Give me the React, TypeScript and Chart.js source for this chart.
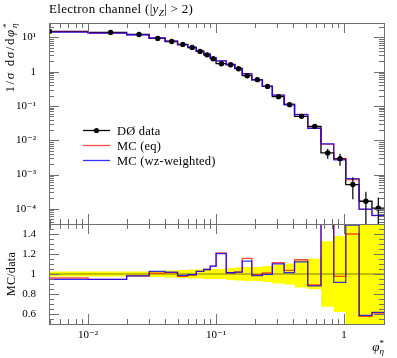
import React, { useEffect, useRef } from 'react';
import { Chart, registerables } from 'chart.js';
Chart.register(...registerables);

const FONT = '"Liberation Serif", "DejaVu Serif", serif';

// ---- data ----
const binEdges = [0, 0.01, 0.02, 0.03, 0.04, 0.05, 0.06, 0.07, 0.08, 0.09, 0.10, 0.12, 0.14, 0.16, 0.19, 0.23, 0.275, 0.34, 0.41, 0.52, 0.66, 0.83, 1.03, 1.31, 1.65, 2.05];
const dataValues = [15.0, 14.0, 12.2, 9.35, 7.6, 6.25, 5.1, 3.9, 3.1, 2.39, 1.71, 1.60, 1.22, 0.764, 0.585, 0.372, 0.187, 0.109, 0.0498, 0.0254, 0.00427, 0.0029, 0.00051, 0.000166, 0.000104];
const dataErrors = [0.38, 0.35, 0.30, 0.28, 0.27, 0.25, 0.23, 0.18, 0.155, 0.12, 0.086, 0.096, 0.079, 0.053, 0.041, 0.030, 0.0178, 0.0114, 0.0067, 0.0039, 0.0014, 0.0011, 0.00032, 0.00015, 0.00011];
const mcEqValues = [14.4, 13.24, 11.96, 9.44, 7.71, 6.10, 5.05, 4.00, 3.24, 2.58, 2.07, 1.62, 1.244, 0.883, 0.581, 0.376, 0.208, 0.113, 0.0569, 0.0226, 0.00769, 0.00283, 0.000714, 0.0000956, 0.0000634];
const mcWzValues = [14.19, 13.24, 11.96, 9.59, 7.75, 6.16, 5.07, 4.00, 3.24, 2.58, 2.06, 1.62, 1.244, 0.863, 0.575, 0.3705, 0.206, 0.1104, 0.0558, 0.0224, 0.00781, 0.00266, 0.00076, 0.0000973, 0.0000641];

const yTickValues = [1e-4, 1e-3, 1e-2, 1e-1, 1, 10];
const yTickLabels = ['10⁻⁴', '10⁻³', '10⁻²', '10⁻¹', '1', '10¹'];
const ratioTickValues = [0.6, 0.8, 1.0, 1.2, 1.4];
const ratioTickLabels = ['0.6', '0.8', '1', '1.2', '1.4'];
const xTickValues = [0.01, 0.1, 1];
const xTickLabels = ['10⁻²', '10⁻¹', '1'];
const legendLabels = ['DØ data', 'MC (eq)', 'MC (wz-weighted)'];

const X_MIN = 0.00495, X_MAX = 2.05;
const Y_MIN = 3.6e-5, Y_MAX = 26.3;
const R_MIN = 0.5, R_MAX = 1.5;

const RED = 'rgba(255,0,0,0.72)';
const BLUE = 'rgba(0,0,255,0.8)';
const FRAME = '#707070';

// ---- helpers ----
const binCenters = binEdges.slice(0, -1).map((e, i) => (e + binEdges[i + 1]) / 2);
function stepPoints(vals: number[]) {
  return binEdges.map((e, i) => ({ x: Math.max(e, X_MIN), y: vals[Math.min(i, vals.length - 1)] }));
}
function ratioOf(vals: number[]) {
  return vals.map((v, i) => v / dataValues[i]);
}

type Piece = { t: string; it?: boolean; dy?: number; sc?: number; na?: boolean };
function fnt(p: Piece, size: number) {
  return `${p.it ? 'italic ' : ''}${size * (p.sc ?? 1)}px ${FONT}`;
}
function drawRich(ctx: any, pieces: Piece[], x: number, y: number, size: number, align: 'left' | 'right' | 'center', spacing = 0) {
  ctx.letterSpacing = `${spacing}px`;
  let w = 0;
  const ws = pieces.map((p) => {
    ctx.font = fnt(p, size);
    const m = ctx.measureText(p.t).width;
    if (!p.na) w += m;
    return m;
  });
  let cx = align === 'left' ? x : align === 'right' ? x - w : x - w / 2;
  ctx.textAlign = 'left';
  ctx.textBaseline = 'alphabetic';
  pieces.forEach((p, i) => {
    ctx.font = fnt(p, size);
    ctx.fillText(p.t, cx, y + (p.dy ?? 0) * size);
    if (!p.na) cx += ws[i];
  });
  ctx.letterSpacing = '0px';
}

function logTicks(min: number, max: number) {
  const out: { v: number; major: boolean }[] = [];
  for (let d = -6; d <= 2; d++) {
    for (let k = 1; k <= 9; k++) {
      const v = k * Math.pow(10, d);
      if (v > min && v < max) out.push({ v, major: k === 1 });
    }
  }
  return out;
}

function drawFrame(chart: any, yTicks: { v: number; major: boolean }[]) {
  const { ctx, chartArea: a, scales } = chart;
  const xs = scales.x, ys = scales.y;
  ctx.save();
  ctx.strokeStyle = FRAME;
  ctx.lineWidth = 1;
  ctx.beginPath();
  for (const t of logTicks(X_MIN, X_MAX)) {
    const px = Math.round(xs.getPixelForValue(t.v)) + 0.5;
    if (px < a.left + 1.5 || px > a.right - 1) continue;
    const len = t.major ? 10 : 5;
    ctx.moveTo(px, a.top); ctx.lineTo(px, a.top + len);
    ctx.moveTo(px, a.bottom); ctx.lineTo(px, a.bottom - len);
  }
  for (const t of yTicks) {
    const py = Math.round(ys.getPixelForValue(t.v)) + 0.5;
    if (py < a.top + 1.5 || py > a.bottom - 1) continue;
    const len = t.major ? 10 : 5;
    ctx.moveTo(a.left, py); ctx.lineTo(a.left + len, py);
    ctx.moveTo(a.right, py); ctx.lineTo(a.right - len, py);
  }
  ctx.stroke();
  ctx.strokeRect(a.left + 0.5, a.top + 0.5, a.right - a.left, a.bottom - a.top);
  ctx.restore();
}

function topConfig(): any {
  const plugin = {
    id: 'topDecor',
    afterDatasetsDraw(chart: any) {
      const { ctx, chartArea: a, scales } = chart;
      ctx.save();
      ctx.beginPath();
      ctx.rect(a.left, a.top, a.right - a.left, a.bottom - a.top);
      ctx.clip();
      ctx.strokeStyle = '#000';
      ctx.lineWidth = 1.2;
      ctx.beginPath();
      binCenters.forEach((c, i) => {
        const px = scales.x.getPixelForValue(c);
        const hi = dataValues[i] + dataErrors[i];
        const lo = dataValues[i] - dataErrors[i];
        const y1 = scales.y.getPixelForValue(hi);
        const y2 = lo > 0 ? scales.y.getPixelForValue(lo) : a.bottom + 10;
        ctx.moveTo(px, y1); ctx.lineTo(px, y2);
      });
      ctx.stroke();
      ctx.restore();
    },
    afterDraw(chart: any) {
      const { ctx } = chart;
      drawFrame(chart, logTicks(Y_MIN, Y_MAX));
      ctx.save();
      ctx.fillStyle = '#000';
      // title
      drawRich(ctx, [
        { t: 'Electron channel (|' }, { t: 'y', it: true }, { t: 'Z', it: true, sc: 0.7, dy: 0.25 }, { t: '| > 2)' },
      ], 49, 13, 13, 'left', 0.3);
      // y axis title (rotated)
      ctx.save();
      ctx.translate(14, 22);
      ctx.rotate(-Math.PI / 2);
      drawRich(ctx, [
        { t: '1/' }, { t: 'σ', it: true }, { t: ' d' }, { t: 'σ', it: true }, { t: '/d' }, { t: 'φ', it: true },
        { t: '*', sc: 0.7, dy: -0.35, na: true }, { t: 'η', it: true, sc: 0.7, dy: 0.25 },
      ], 0, 0, 13, 'right', 1.6);
      ctx.restore();
      // legend
      const colors = ['#000', RED, BLUE];
      legendLabels.forEach((lab, i) => {
        const ly = 130.5 + i * 15;
        ctx.strokeStyle = colors[i];
        ctx.lineWidth = 1.3;
        ctx.beginPath(); ctx.moveTo(83, ly); ctx.lineTo(110, ly); ctx.stroke();
        if (i === 0) {
          ctx.fillStyle = '#000';
          ctx.beginPath(); ctx.arc(96.5, ly, 2.6, 0, Math.PI * 2); ctx.fill();
        }
        ctx.fillStyle = '#000';
        drawRich(ctx, [{ t: lab }], 117, ly + 4, 12.5, 'left', 0.2);
      });
      ctx.restore();
    },
  };
  return {
    type: 'line',
    data: {
      datasets: [
        { label: 'points', data: binCenters.map((c, i) => ({ x: c, y: dataValues[i] })), showLine: false, pointRadius: 2.7, pointBackgroundColor: '#000', pointBorderColor: '#000', pointBorderWidth: 0 },
        { label: legendLabels[2], data: stepPoints(mcWzValues), stepped: 'before', borderColor: BLUE, borderWidth: 1.3, pointRadius: 0, fill: false },
        { label: legendLabels[1], data: stepPoints(mcEqValues), stepped: 'before', borderColor: RED, borderWidth: 1.3, pointRadius: 0, fill: false },
        { label: legendLabels[0], data: stepPoints(dataValues), stepped: 'before', borderColor: '#000', borderWidth: 1.3, pointRadius: 0, fill: false },
      ],
    },
    options: {
      responsive: false,
      animation: false,
      events: [],
      layout: { padding: { top: 23, bottom: 134, left: 0, right: 13 } },
      plugins: { legend: { display: false }, tooltip: { enabled: false } },
      scales: {
        x: { type: 'logarithmic', min: X_MIN, max: X_MAX, display: false },
        y: {
          type: 'logarithmic', min: Y_MIN, max: Y_MAX,
          grid: { display: false }, border: { display: false },
          afterBuildTicks: (s: any) => { s.ticks = yTickValues.map((v) => ({ value: v })); },
          afterFit: (s: any) => { s.width = 49; },
          ticks: { autoSkip: false, padding: 5, font: { size: 11, family: FONT }, color: '#000', callback: (_v: any, i: number) => yTickLabels[i] },
        },
      },
    },
    plugins: [plugin],
  };
}

function bottomConfig(): any {
  const lower = dataErrors.map((e, i) => 1 - e / dataValues[i]);
  const upper = dataErrors.map((e, i) => 1 + e / dataValues[i]);
  const rTicks: { v: number; major: boolean }[] = [];
  for (let k = 11; k <= 29; k++) {
    const v = k * 0.05;
    rTicks.push({ v, major: ratioTickValues.some((t) => Math.abs(t - v) < 1e-6) });
  }
  const plugin = {
    id: 'botDecor',
    afterDraw(chart: any) {
      const { ctx } = chart;
      drawFrame(chart, rTicks);
      ctx.save();
      ctx.fillStyle = '#000';
      ctx.save();
      ctx.translate(15, 274);
      ctx.rotate(-Math.PI / 2);
      drawRich(ctx, [{ t: 'MC/data' }], 0, 0, 12, 'center', 0.3);
      ctx.restore();
      drawRich(ctx, [
        { t: 'φ', it: true }, { t: '*', sc: 0.7, dy: -0.35, na: true }, { t: 'η', it: true, sc: 0.7, dy: 0.25 },
      ], 384, 351, 13, 'right');
      ctx.restore();
    },
  };
  return {
    type: 'line',
    data: {
      datasets: [
        { label: 'wz ratio', data: stepPoints(ratioOf(mcWzValues)), stepped: 'before', borderColor: BLUE, borderWidth: 1.3, pointRadius: 0, fill: false },
        { label: 'eq ratio', data: stepPoints(ratioOf(mcEqValues)), stepped: 'before', borderColor: RED, borderWidth: 1.3, pointRadius: 0, fill: false },
        { label: 'data ratio', data: stepPoints(ratioOf(dataValues)), stepped: 'before', borderColor: 'rgba(0,0,0,0.5)', borderWidth: 1, pointRadius: 0, fill: false },
        { label: 'band upper', data: stepPoints(upper), stepped: 'before', borderWidth: 0, borderColor: 'rgba(0,0,0,0)', pointRadius: 0, fill: '+1', backgroundColor: '#ffff00' },
        { label: 'band lower', data: stepPoints(lower), stepped: 'before', borderWidth: 0, borderColor: 'rgba(0,0,0,0)', pointRadius: 0, fill: false },
      ],
    },
    options: {
      responsive: false,
      animation: false,
      events: [],
      layout: { padding: { top: 224, bottom: 0, left: 0, right: 13 } },
      plugins: { legend: { display: false }, tooltip: { enabled: false } },
      scales: {
        x: {
          type: 'logarithmic', min: X_MIN, max: X_MAX,
          grid: { display: false }, border: { display: false },
          afterBuildTicks: (s: any) => { s.ticks = xTickValues.map((v) => ({ value: v })); },
          afterFit: (s: any) => { s.height = 34; },
          ticks: { autoSkip: false, maxRotation: 0, padding: -3, font: { size: 11, family: FONT }, color: '#000', callback: (_v: any, i: number) => xTickLabels[i] },
        },
        y: {
          type: 'linear', min: R_MIN, max: R_MAX,
          grid: { display: false }, border: { display: false },
          afterBuildTicks: (s: any) => { s.ticks = ratioTickValues.map((v) => ({ value: v })); },
          afterFit: (s: any) => { s.width = 49; },
          ticks: { autoSkip: false, padding: 5, font: { size: 11, family: FONT }, color: '#000', callback: (_v: any, i: number) => ratioTickLabels[i] },
        },
      },
    },
    plugins: [plugin],
  };
}

export default function App() {
  const topRef = useRef<HTMLCanvasElement>(null);
  const botRef = useRef<HTMLCanvasElement>(null);
  useEffect(() => {
    const top = new Chart(topRef.current as HTMLCanvasElement, topConfig());
    const bot = new Chart(botRef.current as HTMLCanvasElement, bottomConfig());
    return () => { top.destroy(); bot.destroy(); };
  }, []);
  return (
    <div style={{ position: 'fixed', left: 0, top: 0, width: 397, height: 358, background: '#fff' }}>
      <canvas ref={botRef} width={397} height={358} style={{ position: 'absolute', left: 0, top: 0 }} />
      <canvas ref={topRef} width={397} height={358} style={{ position: 'absolute', left: 0, top: 0 }} />
    </div>
  );
}
